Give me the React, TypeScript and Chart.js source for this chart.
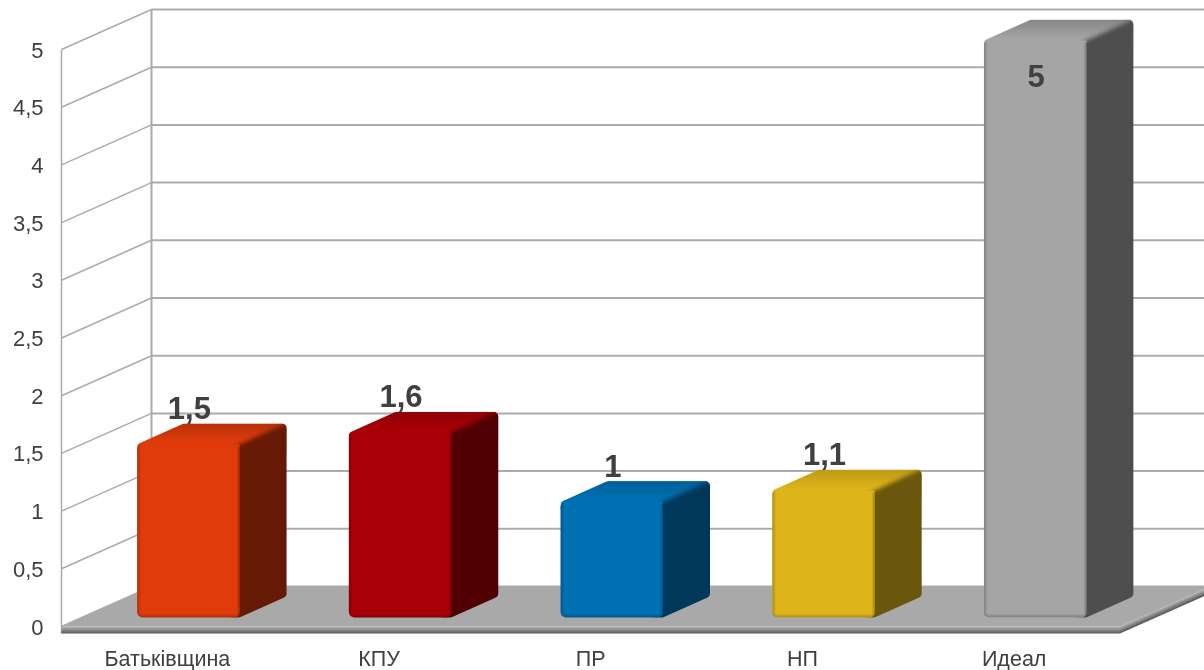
import React, { useEffect, useRef } from "react";
import Chart from "chart.js/auto";

const categories = ["Батьківщина", "КПУ", "ПР", "НП", "Идеал"];
const scores = [1.5, 1.6, 1, 1.1, 5];
const frontColors = ["#E03B0B", "#A80006", "#0070B2", "#DDB41A", "#A5A5A5"];
const sideColors = ["#661A06", "#500003", "#00385A", "#6A560C", "#4D4D4D"];
const topColors = ["#B53208", "#900005", "#005F98", "#BD9A16", "#868686"];

const FONT = '"Liberation Sans", Arial, sans-serif';
const INK = "#404040";
const GRID = "#ABABAB";
const WALL_DX = 90;
const WALL_DY = -40;
const BAR_DX = 47;
const BAR_DY = -21;
const PLANE_DX = 21;
const PLANE_DY = -9;

const comma = (v: number) => String(v).replace(".", ",");

function poly(ctx: CanvasRenderingContext2D, pts: number[][]) {
  ctx.beginPath();
  pts.forEach((p, i) => (i ? ctx.lineTo(p[0], p[1]) : ctx.moveTo(p[0], p[1])));
  ctx.closePath();
}

function roundedPoly(ctx: CanvasRenderingContext2D, pts: number[][], r: number) {
  const n = pts.length;
  const last = pts[n - 1];
  const first = pts[0];
  ctx.beginPath();
  ctx.moveTo((last[0] + first[0]) / 2, (last[1] + first[1]) / 2);
  for (let i = 0; i < n; i++) {
    const a = pts[i];
    const b = pts[(i + 1) % n];
    ctx.arcTo(a[0], a[1], b[0], b[1], r);
  }
  ctx.closePath();
}

function bandGrad(ctx: CanvasRenderingContext2D, x0: number, y0: number, x1: number, y1: number, a: number) {
  const g = ctx.createLinearGradient(x0, y0, x1, y1);
  g.addColorStop(0, `rgba(0,0,0,${a})`);
  g.addColorStop(1, "rgba(0,0,0,0)");
  return g;
}

function hexAlpha(hex: string, a: number) {
  const n = parseInt(hex.slice(1), 16);
  return `rgba(${(n >> 16) & 255},${(n >> 8) & 255},${n & 255},${a})`;
}

const walls3d = {
  id: "walls3d",
  beforeDatasetsDraw(chart: any) {
    const { ctx, scales } = chart;
    const y = scales.y;
    const x = scales.x;
    const L = x.left;
    const R = x.right;
    const y0 = y.getPixelForValue(0);
    const yMax = y.getPixelForValue(5);
    ctx.save();
    ctx.strokeStyle = GRID;
    ctx.lineWidth = 1.5;
    ctx.beginPath();
    ctx.moveTo(L, yMax);
    ctx.lineTo(L, y0 + 7);
    ctx.stroke();
    ctx.lineWidth = 2;
    ctx.beginPath();
    ctx.moveTo(L + WALL_DX, yMax + WALL_DY);
    ctx.lineTo(L + WALL_DX, y0 + WALL_DY);
    ctx.stroke();
    y.ticks.forEach((t: any) => {
      const py = y.getPixelForValue(t.value);
      ctx.lineWidth = 1.5;
      ctx.beginPath();
      ctx.moveTo(L, py);
      ctx.lineTo(L + WALL_DX, py + WALL_DY);
      ctx.stroke();
      ctx.lineWidth = 2;
      ctx.beginPath();
      ctx.moveTo(L + WALL_DX, py + WALL_DY);
      ctx.lineTo(R + WALL_DX, py + WALL_DY);
      ctx.stroke();
    });
    // floor
    ctx.fillStyle = "#A9A9A9";
    poly(ctx, [[L, y0], [R, y0], [R + WALL_DX, y0 + WALL_DY], [L + WALL_DX, y0 + WALL_DY]]);
    ctx.fill();
    const g = ctx.createLinearGradient(0, y0 + 1, 0, y0 + 7);
    g.addColorStop(0, "#A9A9A9");
    g.addColorStop(1, "#5A5A5A");
    ctx.fillStyle = g;
    ctx.fillRect(L, y0, R - L, 7);
    ctx.save();
    ctx.transform(1, WALL_DY / WALL_DX, 0, 1, R, y0);
    const g2 = ctx.createLinearGradient(0, 1, 0, 6);
    g2.addColorStop(0, "#A9A9A9");
    g2.addColorStop(1, "#5F5F5F");
    ctx.fillStyle = g2;
    ctx.fillRect(0, 0, WALL_DX, 7);
    ctx.restore();
    // the bars sit on a plane set back from the front edge of the floor
    ctx.translate(PLANE_DX, PLANE_DY);
    chart.getDatasetMeta(0).data.forEach((b: any, i: number) => {
      const x0 = b.x - b.width / 2;
      const x1 = b.x + b.width / 2;
      const top = b.y;
      const bot = b.base;
      ctx.save();
      roundedPoly(ctx, [
        [x0, top],
        [x0 + BAR_DX, top + BAR_DY],
        [x1 + BAR_DX, top + BAR_DY],
        [x1 + BAR_DX, bot + BAR_DY],
        [x1, bot],
        [x0, bot],
      ], 5);
      ctx.clip();
      // top face, darker toward the back
      const tg = ctx.createLinearGradient(0, top + BAR_DY, 0, top + 1);
      tg.addColorStop(0, topColors[i]);
      tg.addColorStop(0.85, frontColors[i]);
      ctx.fillStyle = tg;
      ctx.fillRect(x0, top + BAR_DY, b.width + BAR_DX, -BAR_DY + 8);
      // side face with a soft join to the top face; it runs on under the front
      ctx.filter = "blur(2px)";
      ctx.fillStyle = sideColors[i];
      poly(ctx, [
        [x1 - 8, top + 4],
        [x1, top],
        [x1 + BAR_DX + 8, top + BAR_DY - 4],
        [x1 + BAR_DX + 8, bot + BAR_DY + 8],
        [x1, bot + 8],
        [x1 - 8, bot + 8],
      ]);
      ctx.fill();
      ctx.restore();
    });
  },
  afterDatasetsDraw(chart: any) {
    const { ctx } = chart;
    chart.getDatasetMeta(0).data.forEach((b: any, i: number) => {
      const x0 = b.x - b.width / 2;
      const x1 = b.x + b.width / 2;
      const top = b.y;
      const bot = b.base;
      const h = bot - top;
      ctx.save();
      ctx.beginPath();
      ctx.roundRect(x0, top, b.width, h, [5, 0, 6, 5]);
      ctx.clip();
      ctx.fillStyle = bandGrad(ctx, x0, 0, x0 + 4, 0, 0.22);
      ctx.fillRect(x0, top, 4, h);
      ctx.fillStyle = bandGrad(ctx, 0, bot, 0, bot - 4, 0.24);
      ctx.fillRect(x0, bot - 4, b.width, 4);
      const e = ctx.createLinearGradient(x1 - 3, 0, x1, 0);
      e.addColorStop(0, hexAlpha(sideColors[i], 0));
      e.addColorStop(1, hexAlpha(sideColors[i], 0.5));
      ctx.fillStyle = e;
      ctx.fillRect(x1 - 3, top + 2, 3, h - 2);
      ctx.restore();
    });
    ctx.restore();
    // value labels above the bar, or inside when the bar reaches the axis top
    ctx.save();
    ctx.font = `bold 31px ${FONT}`;
    ctx.fillStyle = INK;
    ctx.textAlign = "center";
    ctx.textBaseline = "middle";
    chart.getDatasetMeta(0).data.forEach((b: any, i: number) => {
      const top = b.y + PLANE_DY;
      const ly = scores[i] >= 5 ? top + 37.5 : top - 34;
      ctx.fillText(comma(scores[i]), b.x + PLANE_DX + 1, ly);
    });
    ctx.restore();
  },
};

export default function App() {
  const ref = useRef<HTMLCanvasElement>(null);
  useEffect(() => {
    const chart = new Chart(ref.current!, {
      type: "bar",
      data: {
        labels: categories,
        datasets: [
          {
            data: scores,
            backgroundColor: frontColors,
            barPercentage: 0.484,
            categoryPercentage: 1,
            borderRadius: { topLeft: 5, topRight: 0, bottomLeft: 6, bottomRight: 5 },
            borderSkipped: false,
            clip: false,
          } as any,
        ],
      },
      plugins: [walls3d],
      options: {
        responsive: false,
        animation: false,
        layout: { padding: { top: 49.5, right: 84, bottom: 0, left: 0 } },
        plugins: { legend: { display: false }, tooltip: { enabled: false } },
        scales: {
          x: {
            grid: { display: false, drawTicks: false },
            border: { display: false },
            ticks: { color: INK, padding: 21, maxRotation: 0, font: { family: FONT, size: 21.5 } },
            afterFit: (s: any) => { s.height = 43.5; },
          },
          y: {
            min: 0,
            max: 5,
            grid: { display: false, drawTicks: false },
            border: { display: false },
            ticks: {
              stepSize: 0.5,
              color: INK,
              padding: 18,
              font: { family: FONT, size: 22, lineHeight: "4px" },
              // the blank first line nudges each label down to sit level with its gridline
              callback: (v: any) => ["", comma(Number(v))],
            },
            afterFit: (s: any) => { s.width = 61.5; },
          },
        },
      },
    });
    return () => chart.destroy();
  }, []);
  return (
    <canvas
      ref={ref}
      width={1204}
      height={670}
      style={{ position: "fixed", left: 0, top: 0, width: 1204, height: 670, display: "block", background: "#fff" }}
    />
  );
}
